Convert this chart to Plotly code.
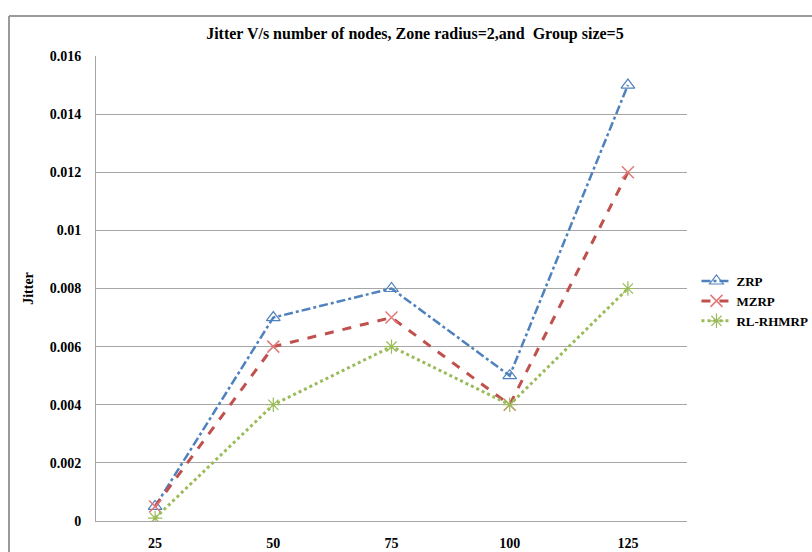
"""Jitter vs number of nodes line chart."""

import plotly.graph_objects as go

NODES = ["25", "50", "75", "100", "125"]
ZRP = [0.0005, 0.007, 0.008, 0.005, 0.015]
MZRP = [0.0005, 0.006, 0.007, 0.004, 0.012]
RL_RHMRP = [0.0001, 0.004, 0.006, 0.004, 0.008]
Y_TICKS = [0, 0.002, 0.004, 0.006, 0.008, 0.01, 0.012, 0.014, 0.016]

BLUE = "#4F81BD"
RED = "#C0504D"
GREEN = "#9BBB59"
GRID = "#a6a6a6"
BORDER = "#9a9a9a"
FONT = "Liberation Serif"

fig = go.Figure()
fig.add_trace(go.Scatter(
    x=NODES, y=ZRP, name="ZRP", mode="lines+markers",
    line=dict(color=BLUE, width=2.5, dash="dashdot"),
    marker=dict(symbol="triangle-up-open", size=12, color=BLUE, line=dict(width=1.2)),
))
fig.add_trace(go.Scatter(
    x=NODES, y=MZRP, name="MZRP", mode="lines+markers",
    line=dict(color=RED, width=3, dash="dash"),
    marker=dict(symbol="x-thin-open", size=12, color="#E07A78", line=dict(width=1.5, color="#E07A78")),
))
fig.add_trace(go.Scatter(
    x=NODES, y=RL_RHMRP, name="RL-RHMRP", mode="lines+markers",
    line=dict(color=GREEN, width=3, dash="dot"),
    marker=dict(symbol="asterisk-open", size=12, color=GREEN, line=dict(width=1.2, color=GREEN)),
))

# outer chart border (top and left edges visible in the crop)
border = [
    dict(type="line", xref="paper", yref="paper", x0=-0.1472, x1=1.3, y0=1.086, y1=1.086,
         line=dict(color=BORDER, width=2)),
    dict(type="line", xref="paper", yref="paper", x0=-0.1472, x1=-0.1472, y0=1.086, y1=-0.2,
         line=dict(color=BORDER, width=2)),
]

fig.update_layout(
    width=812,
    height=552,
    paper_bgcolor="white",
    plot_bgcolor="white",
    margin=dict(l=96, r=125, t=56, b=31, autoexpand=False),
    font=dict(family=FONT, color="black", size=14),
    title=dict(
        text="<b>Jitter V/s number of nodes, Zone radius=2,and  Group size=5</b>",
        x=0.511, xanchor="center", y=0.94, yanchor="middle",
        font=dict(size=16, family=FONT),
    ),
    showlegend=True,
    legend=dict(
        x=1.016, xanchor="left", y=0.473, yanchor="middle",
        font=dict(size=13, family=FONT, weight="bold"),
        tracegroupgap=3, itemwidth=30,
    ),
    shapes=border,
)
fig.update_xaxes(
    type="category",
    range=[-0.5, 4.5],
    showgrid=False,
    showline=True, linecolor=GRID, linewidth=1,
    ticks="", tickfont=dict(size=14, family=FONT, weight="bold"),
    ticklabelstandoff=9,
)
fig.update_yaxes(
    range=[0, 0.016],
    tickvals=Y_TICKS,
    showgrid=True, gridcolor=GRID, gridwidth=1,
    showline=True, linecolor=GRID, linewidth=1,
    zeroline=False,
    ticks="", tickfont=dict(size=14, family=FONT, weight="bold"),
    ticklabelstandoff=11,
    title=dict(text="<b>Jitter</b>", font=dict(size=14, family=FONT), standoff=12),
)

fig.write_html(
    "out.html",
    config={"displayModeBar": False},
    post_script="document.body.style.margin = '0';",
)
